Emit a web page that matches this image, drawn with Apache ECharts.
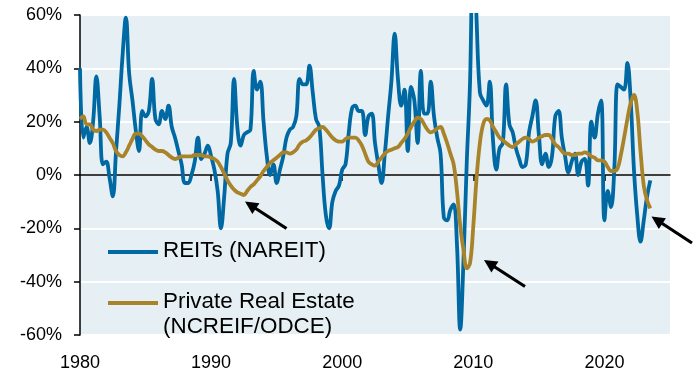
<!DOCTYPE html>
<html>
<head>
<meta charset="utf-8">
<script src="https://cdn.jsdelivr.net/npm/echarts@6/dist/echarts.min.js"></script>
<style>
  html, body { margin: 0; padding: 0; background: #ffffff; }
  #chart { width: 700px; height: 372px; }
</style>
</head>
<body>
<div id="chart"></div>
<script>
// Rolling one-year total returns, quarterly, starting with Q1 1980 (values in %)
const startYear = 1980;
const quarterStep = 0.25;

const xTickLabels = [1980, 1990, 2000, 2010, 2020];
const yTickLabels = [-60, -40, -20, 0, 20, 40, 60];

const reitsName = 'REITs (NAREIT)';
const privateName = 'Private Real Estate\n(NCREIF/ODCE)';

const reits = [
  40, 14, 18, 12,      // 1980
  20, 37, 22, 4,       // 1981
  5, -1, -8, 9,        // 1982
  26, 45, 59, 38,      // 1983
  28, 17, 9, 24,       // 1984
  22, 24, 36, 21,      // 1985
  19, 24, 21, 26,      // 1986
  18, 14, 9, 4,        // 1987
  -3, -3, 0, 5,        // 1988
  14, 6, 8, 11,        // 1989
  7, 2, -6, -20,       // 1990
  -8, 8, 12, 36,       // 1991
  18, 11, 15, 16,      // 1992
  17, 39, 32, 35,      // 1993
  20, 7, 0, 4,         // 1994
  -3, 2, 7, 14,        // 1995
  17, 18, 22, 36,      // 1996
  34, 34, 41, 31,      // 1997
  21, 18, 0, -15,      // 1998
  -20, -10, -6, -4,    // 1999
  2, 4, 16, 25,        // 2000
  26, 24, 24, 15,      // 2001
  22, 23, 12, 4,       // 2002
  -3, 8, 22, 35,       // 2003
  53, 36, 26, 32,      // 2004
  9, 33, 28, 12,       // 2005
  39, 23, 23, 35,      // 2006
  22, 14, 8, -16,      // 2007
  -17, -13, -11, -26,  // 2008
  -58, -32, 5, 35,     // 2009
  95, 58, 31, 28,      // 2010
  26, 35, 13, 2,       // 2011
  10, 12, 34, 19,      // 2012
  16, 10, 6, 3,        // 2013
  4, 16, 22, 28,       // 2014
  15, 4, 8, 3,         // 2015
  7, 22, 24, 14,       // 2016
  7, 1, 5, 8,          // 2017
  0, 5, 6, -4,         // 2018
  20, 14, 23, 28,      // 2019
  -17, -6, -12, 2,     // 2020
  34, 33, 32, 42,      // 2021
  28, 2, -15, -25,     // 2022
  -17, -8, -2          // 2023
];

const privateRE = [
  21, 22, 19, 19,          // 1980
  17, 16.5, 17, 17,        // 1981
  16, 14, 12, 9,           // 1982
  7.5, 7, 8.5, 11,         // 1983
  13.5, 15.5, 15.5, 14.5,  // 1984
  13, 11.5, 10.5, 9.5,     // 1985
  9, 9, 8.5, 7.5,          // 1986
  6.5, 6, 6.5, 7,          // 1987
  7, 7, 7, 7.5,            // 1988
  7.5, 7.5, 7, 7,          // 1989
  6.5, 6, 5, 3,            // 1990
  0.5, -2, -4, -5.5,       // 1991
  -6.5, -7, -7.5, -6,      // 1992
  -4.5, -3.5, -2, -0.5,    // 1993
  1.5, 3, 4.5, 5.5,        // 1994
  6.5, 7.5, 8.5, 8.5,      // 1995
  8, 8.5, 9.5, 11.5,       // 1996
  12.5, 13, 14, 15.5,      // 1997
  17, 17.5, 18, 17,        // 1998
  15.5, 14, 13, 12.5,      // 1999
  12.5, 13.5, 14, 14,      // 2000
  14, 13, 11, 8,           // 2001
  5, 4, 3.5, 5,            // 2002
  6.5, 8, 9, 9.5,          // 2003
  10, 10.5, 12, 13.5,      // 2004
  15.5, 18, 20, 21.5,      // 2005
  21, 19, 17, 16,          // 2006
  16.5, 17.5, 18, 15.5,    // 2007
  12, 8, 4, -6,            // 2008
  -19, -28, -35, -33,      // 2009
  -19, -1, 12, 19,         // 2010
  21, 20.5, 18, 16,        // 2011
  14, 13, 12, 11,          // 2012
  10.5, 11.5, 12.5, 13.5,  // 2013
  14, 13.5, 12.5, 13,      // 2014
  14, 14.5, 15, 15,        // 2015
  13.5, 11.5, 10.5, 9,     // 2016
  8, 8, 7.5, 7.5,          // 2017
  8, 8, 8.5, 8,            // 2018
  7, 6.5, 5.5, 5.5,        // 2019
  5, 3, 1.5, 1.5,          // 2020
  2.5, 7.5, 14, 21,        // 2021
  27, 30, 24, 9,           // 2022
  -4, -9.5, -12.5          // 2023
];

const BLUE = '#0068a3';
const GOLD = '#a8832a';
const PLOT_BG = '#e6f0f4';
const FONT = 'Arial, "Liberation Sans", sans-serif';

const toPoints = (values) => values.map((v, i) => [startYear + i * quarterStep, v]);

// Call-out arrows: [tailX, tailY, tipX, tipY] in pixels
const arrows = [
  [286.5, 228.5, 245, 201.5],
  [525, 286.5, 484, 260],
  [692, 243, 651.5, 216.5]
];

function arrowGraphics(a) {
  const [x1, y1, x2, y2] = a;
  const dx = x2 - x1, dy = y2 - y1;
  const len = Math.sqrt(dx * dx + dy * dy);
  const ux = dx / len, uy = dy / len;
  const headLen = 13, headHalf = 6.5;
  const bx = x2 - ux * headLen, by = y2 - uy * headLen;
  const nx = -uy, ny = ux;
  return [
    { type: 'line', silent: true, z: 100,
      shape: { x1: x1, y1: y1, x2: bx + ux * 2, y2: by + uy * 2 },
      style: { stroke: '#000', lineWidth: 3.2 } },
    { type: 'polygon', silent: true, z: 100,
      shape: { points: [[x2, y2], [bx + nx * headHalf, by + ny * headHalf], [bx - nx * headHalf, by - ny * headHalf]] },
      style: { fill: '#000' } }
  ];
}

const legendGraphics = [
  { type: 'line', silent: true, z: 100, shape: { x1: 108, y1: 252, x2: 158, y2: 252 },
    style: { stroke: BLUE, lineWidth: 4 } },
  { type: 'text', silent: true, z: 100, x: 163, y: 251,
    style: { text: reitsName, fill: '#000', font: '22.4px ' + FONT, verticalAlign: 'middle', align: 'left' } },
  { type: 'line', silent: true, z: 100, shape: { x1: 108, y1: 303, x2: 158, y2: 303 },
    style: { stroke: GOLD, lineWidth: 4 } },
  { type: 'text', silent: true, z: 100, x: 163, y: 289.5,
    style: { text: privateName, fill: '#000', font: '22.4px ' + FONT, lineHeight: 25, verticalAlign: 'top', align: 'left' } }
];

const chart = echarts.init(document.getElementById('chart'), null, { renderer: 'canvas' });

chart.setOption({
  animation: false,
  backgroundColor: '#ffffff',
  grid: {
    left: 80, right: 30, top: 15, bottom: 37,
    show: true, backgroundColor: PLOT_BG, borderWidth: 0
  },
  xAxis: [
    {
      type: 'value', min: xTickLabels[0], max: 2025, interval: 10,
      position: 'bottom',
      axisLine: { show: false, onZero: false },
      axisTick: { show: false },
      splitLine: { show: false },
      axisLabel: {
        customValues: xTickLabels,
        formatter: (v) => String(v),
        color: '#000', fontSize: 18, fontFamily: FONT, margin: 19
      }
    },
    {
      type: 'value', min: xTickLabels[0], max: 2025, interval: 10,
      position: 'top',
      axisLine: { show: true, onZero: true, lineStyle: { color: '#000', width: 1.5 } },
      axisTick: {
        show: true, inside: true, length: 6,
        customValues: xTickLabels.slice(1),
        lineStyle: { color: '#000', width: 1.5 }
      },
      axisLabel: { show: false },
      splitLine: { show: false }
    }
  ],
  yAxis: {
    type: 'value', min: yTickLabels[0], max: yTickLabels[yTickLabels.length - 1], interval: 20,
    axisLine: { show: true, onZero: false, lineStyle: { color: '#000', width: 1.5 } },
    axisTick: { show: true, length: 6, lineStyle: { color: '#000', width: 1.5 } },
    axisLabel: {
      formatter: (v) => v + '%',
      color: '#000', fontSize: 18, fontFamily: FONT, margin: 18
    },
    splitLine: { show: true, lineStyle: { color: '#ffffff', width: 2 } }
  },
  series: [
    {
      name: reitsName, type: 'line', xAxisIndex: 0,
      data: toPoints(reits),
      showSymbol: false, smooth: 0.4, clip: true,
      lineStyle: { color: BLUE, width: 3.8 }, z: 3
    },
    {
      name: privateName, type: 'line', xAxisIndex: 0,
      data: toPoints(privateRE),
      showSymbol: false, smooth: 0.4, clip: true,
      lineStyle: { color: GOLD, width: 3.8 }, z: 4
    }
  ],
  graphic: legendGraphics.concat(...arrows.map(arrowGraphics))
});
</script>
</body>
</html>
